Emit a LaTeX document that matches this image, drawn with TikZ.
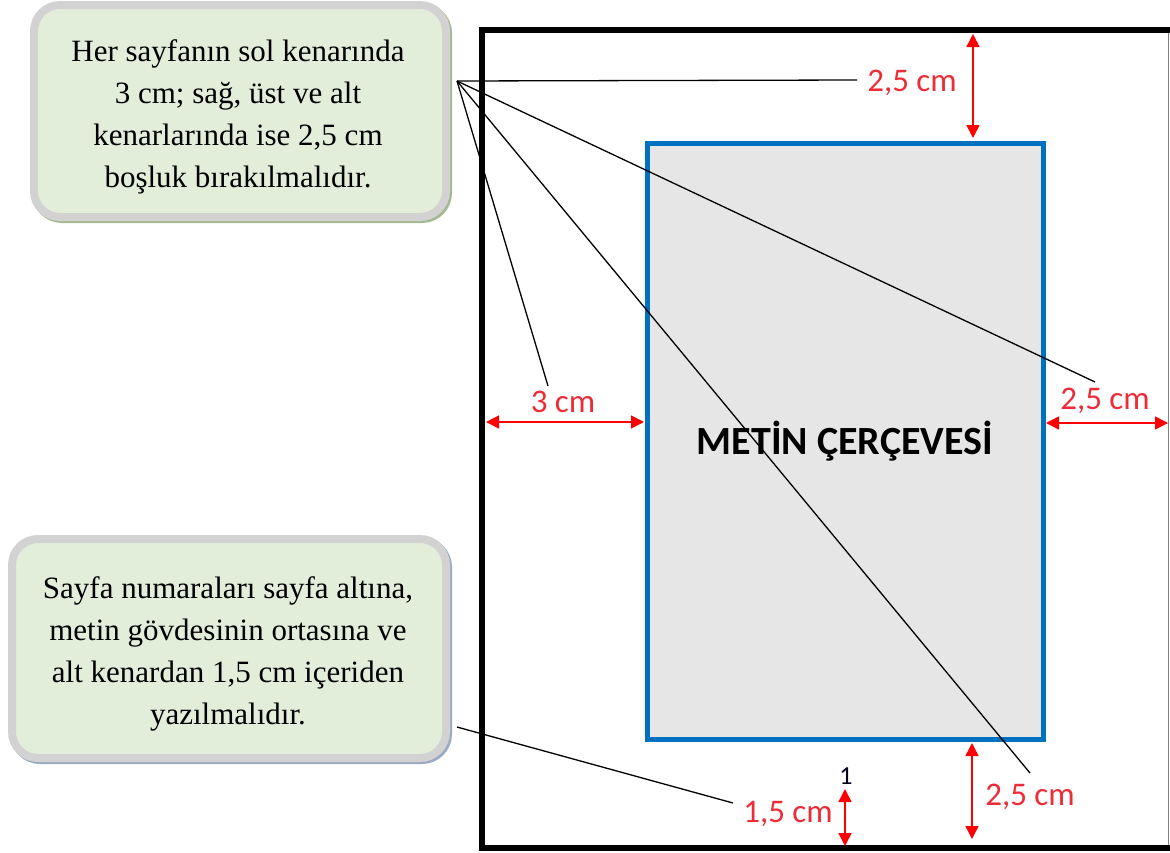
\documentclass[tikz,border=0pt]{standalone}
\usepackage{fontspec}
\setmainfont{Liberation Serif}
\newfontfamily\calfont{Carlito}
\usetikzlibrary{arrows.meta}
\definecolor{calloutfill}{RGB}{226,238,218}
\definecolor{calloutborder}{RGB}{210,210,210}
\definecolor{shadowgreen}{RGB}{165,185,145}
\definecolor{shadowblue}{RGB}{155,170,195}
\definecolor{frameblue}{RGB}{0,112,192}
\definecolor{framegray}{RGB}{230,230,230}
\definecolor{dimred}{RGB}{255,0,0}
\definecolor{lblred}{RGB}{236,45,55}
\begin{document}
\begin{tikzpicture}[x=1pt,y=-1pt,
 dimarrow/.style={draw=dimred, line width=1.5pt, {Triangle[length=13pt,width=13pt]}-{Triangle[length=13pt,width=13pt]}},
 dimlabel/.style={text=lblred, font=\calfont\fontsize{33}{40}\selectfont, anchor=base, inner sep=0pt},
 callouttext/.style={font=\fontsize{31}{42}\selectfont, align=center, inner sep=0pt},
 calloutbox/.style={draw=calloutborder, fill=calloutfill, line width=8pt, rounded corners=26pt},
 leader/.style={draw=black, line width=1.3pt},
]
\useasboundingbox (0,0) rectangle (1170,852);
% page frame
\draw[line width=6pt] (1180,30) -- (482,30) -- (482,848) -- (1180,848);
\draw[gray, line width=1.5pt] (1168.5,33) -- (1168.5,845);
% text frame
\node[draw=frameblue, fill=framegray, line width=5pt, minimum width=396pt, minimum height=596pt, inner sep=0pt,
      font=\calfont\bfseries\fontsize{40}{44}\selectfont] (tf) at (845,441) {METİN ÇERÇEVESİ};
% callouts
\draw[draw=shadowgreen, line width=8pt, rounded corners=26pt] (36,7) rectangle (448,219);
\draw[calloutbox] (34,5) rectangle (446,217);
\node[callouttext] (c1) at (238,117) {Her sayfanın sol kenarında\\3 cm; sağ, üst ve alt\\kenarlarında ise 2,5 cm\\boşluk bırakılmalıdır.};
\draw[draw=shadowblue, line width=8pt, rounded corners=26pt] (14,541) rectangle (448,760);
\draw[calloutbox] (12,539) rectangle (446,758);
\node[callouttext] (c2) at (228,654) {Sayfa numaraları sayfa altına,\\metin gövdesinin ortasına ve\\alt kenardan 1,5 cm içeriden\\yazılmalıdır.};
% dimension arrows
\draw[dimarrow] (973,34) -- (973,138);
\draw[dimarrow] (486,422) -- (644,422);
\draw[dimarrow] (1046,423) -- (1168,423);
\draw[dimarrow] (972,743) -- (972,839);
\draw[dimarrow] (845,789) -- (845,846);
% labels
\node[dimlabel] (ltop) at (912,91) {2,5 cm};
\node[dimlabel] (lleft) at (563,412) {3 cm};
\node[dimlabel] (lright) at (1105,409) {2,5 cm};
\node[dimlabel] (lbot) at (1030,805) {2,5 cm};
\node[dimlabel] (lpage) at (788,822) {1,5 cm};
\node[anchor=base, inner sep=0pt, text=black!90!blue, font=\calfont\fontsize{26}{30}\selectfont] (pnum) at (846,784) {1};
% leader lines
\coordinate (apex) at (457,81);
\coordinate (etop) at (857,80);
\coordinate (eleft) at (548,386);
\coordinate (eright) at (1095,382);
\coordinate (ebot) at (1030,773);
\coordinate (apex2) at (457,727);
\coordinate (epage) at (733,803);
\draw[leader] (apex) -- (etop);
\draw[leader] (apex) -- (eleft);
\draw[leader] (apex) -- (eright);
\draw[leader] (apex) -- (ebot);
\draw[leader] (apex2) -- (epage);
\end{tikzpicture}
\end{document}
